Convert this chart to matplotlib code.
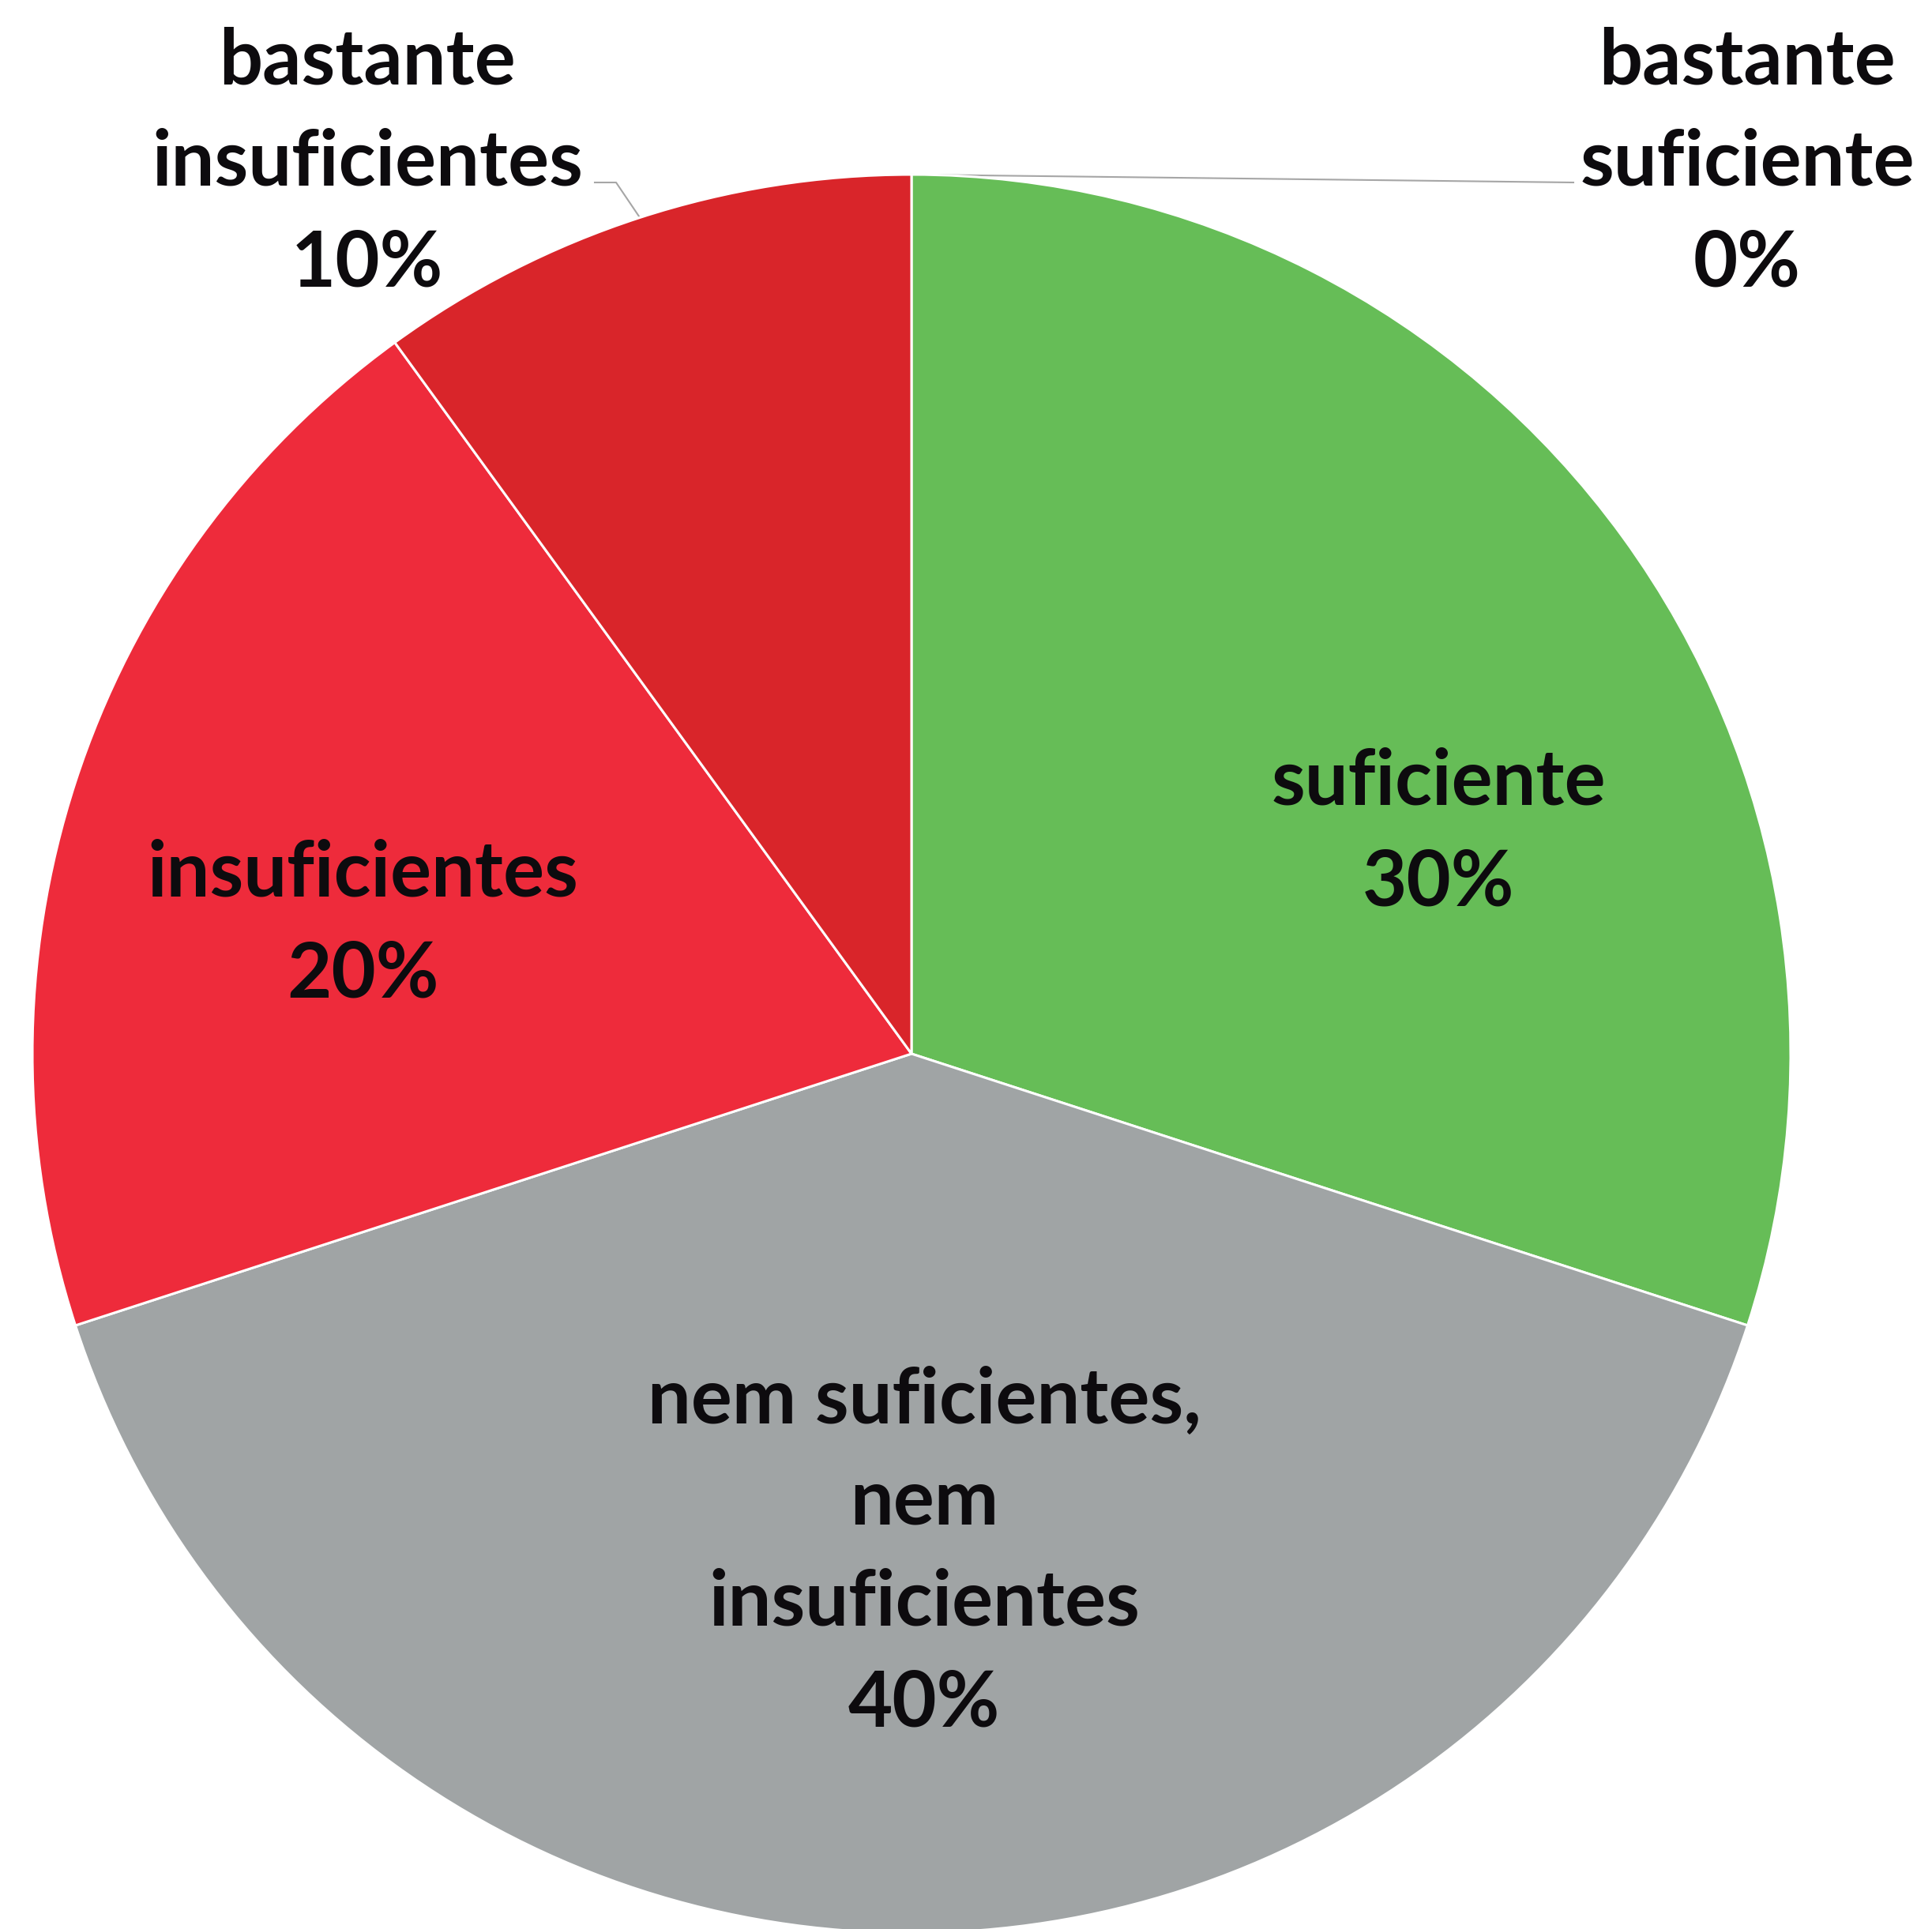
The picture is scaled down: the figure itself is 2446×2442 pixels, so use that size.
import numpy as np
import matplotlib.pyplot as plt

# data
categories = ["bastante\nsuficiente", "suficiente", "nem suficientes,\nnem\ninsuficientes",
              "insuficientes", "bastante\ninsuficientes"]
values = [0, 30, 40, 20, 10]
colors = ["#3E8E2F", "#66BD57", "#A0A4A5", "#EE2B3B", "#D9252A"]

W, H = 2446, 2442
cx, cy, R = 1154, 1334, 1113  # pie centre / radius in pixels


def px(x, y):
    # pixel (from top left) -> data units
    return (x - cx) / R, (cy - y) / R


fig = plt.figure(figsize=(W / 100, H / 100), dpi=100)
ax = fig.add_axes([0, 0, 1, 1])

wedges, _ = ax.pie(values, colors=colors, startangle=90, counterclock=False, radius=1,
                   wedgeprops=dict(edgecolor="white", linewidth=2.2))

# pie() resets the limits, so set them afterwards
ax.set_xlim(-cx / R, (W - cx) / R)
ax.set_ylim((cy - H) / R, cy / R)
ax.set_aspect("equal")
ax.axis("off")

# label positions (pixels) and leader-line elbows
label_pos = [(2212, 206), (1821, 1054), (1170, 1965), (459, 1170), (465, 206)]
outside = {0: [(1992, 231)], 4: [(780, 231), (753, 231)]}

for i, (w, lab) in enumerate(zip(wedges, categories)):
    x, y = px(*label_pos[i])
    ax.text(x, y, f"{lab}\n{values[i]}%", ha="center", va="center",
            fontsize=70, fontweight="bold", family=["Lato", "DejaVu Sans"],
            color="#0D0B0E", linespacing=1.53)
    if i in outside:
        mid = np.deg2rad((w.theta1 + w.theta2) / 2)
        xs = [np.cos(mid)] + [px(*p)[0] for p in outside[i]]
        ys = [np.sin(mid)] + [px(*p)[1] for p in outside[i]]
        ax.plot(xs, ys, color="#A6A6A6", lw=1.5, zorder=0)

fig.savefig("out.png", dpi=100, facecolor="white")
